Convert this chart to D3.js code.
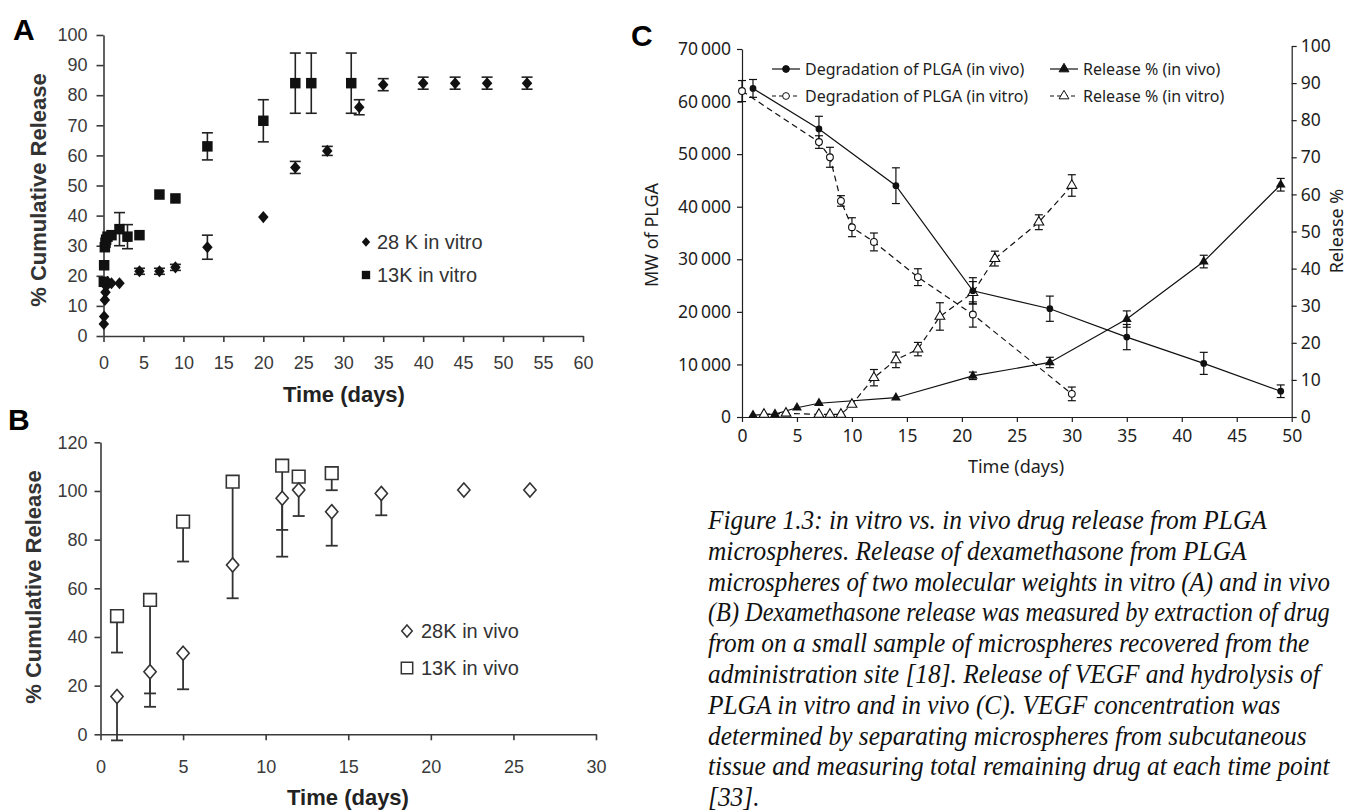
<!DOCTYPE html>
<html><head><meta charset="utf-8">
<script src="https://cdn.jsdelivr.net/npm/d3@7"></script>
<style>body{margin:0;background:#fff;} svg{display:block}</style>
</head><body>
<svg id="fig" width="1351" height="811"></svg>
<script>
// ---------- Panel A data (in vitro dexamethasone release) ----------
const aDays28 = [0.04,0.08,0.17,0.25,0.33,0.5,1,2,4.5,7,9,13,20,24,28,32,35,40,44,48,53];
const aVal28  = [4,6.5,12,14.5,16.5,18,17.5,17.5,21.5,21.5,22.8,29.5,39.5,56,61.5,76,83.5,84,84,84,84];
const aErr28  = [0,0,0,0,0,0,0,0,1,1,1,4,0,2,1.5,2.5,2,2,2,2,2];
const aDays13 = [0.04,0.08,0.17,0.25,0.33,0.5,1,2,3,4.5,7,9,13,20,24,26,31];
const aVal13  = [18,23.5,29.5,31,32,33,33.5,35.5,33,33.5,47,45.7,63,71.5,84,84,84];
const aErr13  = [0,0,0,0,0,0,0,5.5,4,0,0,0,4.5,7,10,10,10];
const aXTicks = [0,5,10,15,20,25,30,35,40,45,50,55,60];
const aYTicks = [0,10,20,30,40,50,60,70,80,90,100];
const aLegend = ["28 K in vitro","13K in vitro"];

// ---------- Panel B data (in vivo dexamethasone release) ----------
const bDays28 = [1,3,5,8,11,12,14,17,22,26];
const bVal28  = [15.5,25.7,33.3,69.6,97,100.4,91.5,99,100.4,100.4];
const bErr28  = [18,14.4,14.8,13.7,24,10.7,14,9,0,0];
const bDays13 = [1,3,5,8,11,12,14];
const bVal13  = [48.6,55.2,87.4,103.8,110.4,105.9,107.3];
const bErr13  = [15,38.4,16.4,34,26.4,5,7];
const bXTicks = [0,5,10,15,20,25,30];
const bYTicks = [0,20,40,60,80,100,120];
const bLegend = ["28K in vivo","13K in vivo"];

// ---------- Panel C data (VEGF release and PLGA degradation) ----------
const cDegVivoDays  = [1,7,14,21,28,35,42,49];
const cDegVivo      = [62500,54800,44000,24000,20600,15200,10200,4900];
const cDegVivoErr   = [1700,2400,3400,2500,2400,2400,2100,1200];
const cDegVitroDays = [0,7,8,9,10,12,16,21,30];
const cDegVitro     = [62000,52300,49400,41100,36100,33300,26600,19500,4400];
const cDegVitroErr  = [2000,1200,1900,1000,1800,1700,1600,2400,1300];
const cRelVivoDays  = [1,3,5,7,14,21,28,35,42,49];
const cRelVivo      = [0.5,0.8,2.5,3.7,5.2,11.1,14.7,26.4,41.9,62.6];
const cRelVivoErr   = [0,0,0,0,0,1,1.4,2.2,1.7,1.7];
const cRelVitroDays = [2,4,7,8,9,10,12,14,16,18,21,23,27,30];
const cRelVitro     = [0.7,1,0.7,0.7,0.7,3.4,10.6,15.4,18.3,27.1,33.5,42.7,52.5,62.4];
const cRelVitroErr  = [0,0,0,0,0,0,2.2,2.1,1.8,3.7,3,2,2,2.9];
const cXTicks = [0,5,10,15,20,25,30,35,40,45,50];
const cYLeftTicks = [0,10000,20000,30000,40000,50000,60000,70000];
const cYRightTicks = [0,10,20,30,40,50,60,70,80,90,100];
const cLegend = ["Degradation of PLGA (in vivo)","Degradation of PLGA (in vitro)","Release % (in vivo)","Release % (in vitro)"];

const captionLines = [
 "Figure 1.3: in vitro vs. in vivo drug release from PLGA",
 "microspheres. Release of dexamethasone from PLGA",
 "microspheres of two molecular weights in vitro (A) and in vivo",
 "(B) Dexamethasone release was measured by extraction of drug",
 "from on a small sample of microspheres recovered from the",
 "administration site [18]. Release of VEGF and hydrolysis of",
 "PLGA in vitro and in vivo (C). VEGF concentration was",
 "determined by separating microspheres from subcutaneous",
 "tissue and measuring total remaining drug at each time point",
 "[33]."
];

const SANS = "'Liberation Sans', Arial, Helvetica, sans-serif";
const CSANS = "'Noto Sans', 'Open Sans', sans-serif";
const SERIF = "'Liberation Serif', 'Times New Roman', serif";

const svg = d3.select('#fig');
svg.append('rect').attr('width',1351).attr('height',811).attr('fill','#fff');

// custom rhombus symbol
const rhombus = { draw(ctx, size){ const h = Math.sqrt(size)/2; ctx.moveTo(0,-h*1.15); ctx.lineTo(h,0); ctx.lineTo(0,h*1.15); ctx.lineTo(-h,0); ctx.closePath(); } };

function styleAxis(g, color, fs, family, sw){
  g.attr('font-size', fs).attr('font-family', family);
  g.select('.domain').attr('stroke', color).attr('stroke-width', sw);
  g.selectAll('.tick line').attr('stroke', color).attr('stroke-width', sw);
  g.selectAll('.tick text').attr('fill', color);
}
function zip(xs, ys, es){ return xs.map((x,i)=>({x, y:ys[i], e: es ? es[i] : 0})); }

function errBars(g, data, sx, sy, capW, up, down, color, sw){
  const d = data.filter(p=>p.e>0);
  const eg = g.append('g').attr('stroke', color).attr('stroke-width', sw).attr('fill','none');
  d.forEach(p=>{
    const top = up ? sy(p.y+p.e) : sy(p.y);
    const bot = down ? sy(p.y-p.e) : sy(p.y);
    eg.append('line').attr('x1', sx(p.x)).attr('x2', sx(p.x)).attr('y1', top).attr('y2', bot);
    if (up) eg.append('line').attr('x1', sx(p.x)-capW/2).attr('x2', sx(p.x)+capW/2).attr('y1', top).attr('y2', top);
    if (down) eg.append('line').attr('x1', sx(p.x)-capW/2).attr('x2', sx(p.x)+capW/2).attr('y1', bot).attr('y2', bot);
  });
}

// ================= Panel A =================
{
  const ax = d3.scaleLinear().domain([0,60]).range([103.5,583]);
  const ay = d3.scaleLinear().domain([0,100]).range([336,35]);
  const g = svg.append('g');
  const gx = g.append('g').attr('transform',`translate(0,${ay(0)})`)
    .call(d3.axisBottom(ax).tickValues(aXTicks).tickSize(6).tickSizeOuter(0).tickPadding(14));
  styleAxis(gx, '#3a3a3a', 18, SANS, 1.6);
  const gy = g.append('g').attr('transform',`translate(${ax(0)},0)`)
    .call(d3.axisLeft(ay).tickValues(aYTicks).tickSize(7).tickSizeOuter(0).tickPadding(9));
  styleAxis(gy, '#3a3a3a', 18, SANS, 1.6);

  const d28 = zip(aDays28, aVal28, aErr28), d13 = zip(aDays13, aVal13, aErr13);
  errBars(g, d13, ax, ay, 11, true, true, '#222', 1.6);
  errBars(g, d28, ax, ay, 11, true, true, '#222', 1.6);
  g.append('g').selectAll('path').data(d13).join('path')
    .attr('transform', p=>`translate(${ax(p.x)},${ay(p.y)})`)
    .attr('d', d3.symbol().type(d3.symbolSquare).size(110)).attr('fill','#111');
  g.append('g').selectAll('path').data(d28).join('path')
    .attr('transform', p=>`translate(${ax(p.x)},${ay(p.y)})`)
    .attr('d', d3.symbol().type(rhombus).size(110)).attr('fill','#111');

  // legend
  const lg = g.append('g').attr('font-family', SANS).attr('font-size', 20).attr('fill','#333');
  lg.append('path').attr('transform','translate(366,242)').attr('d', d3.symbol().type(rhombus).size(70)).attr('fill','#111');
  lg.append('text').attr('x',377).attr('y',242).attr('dy','0.35em').text(aLegend[0]);
  lg.append('path').attr('transform','translate(366,275)').attr('d', d3.symbol().type(d3.symbolSquare).size(70)).attr('fill','#111');
  lg.append('text').attr('x',377).attr('y',275).attr('dy','0.35em').text(aLegend[1]);

  g.append('text').attr('transform','translate(46,190) rotate(-90)').attr('text-anchor','middle')
    .attr('font-family',SANS).attr('font-weight','bold').attr('font-size',22).attr('fill','#333').text('% Cumulative Release');
  g.append('text').attr('x',344).attr('y',402).attr('text-anchor','middle')
    .attr('font-family',SANS).attr('font-weight','bold').attr('font-size',22).attr('fill','#222').text('Time (days)');
  svg.append('text').attr('x',13).attr('y',40).attr('font-family',SANS).attr('font-weight','bold').attr('font-size',30).attr('fill','#000').text('A');
}

// ================= Panel B =================
{
  const bx = d3.scaleLinear().domain([0,30]).range([100.5,596]);
  const by = d3.scaleLinear().domain([0,120]).range([734.3,442.3]);
  const g = svg.append('g');
  const gx = g.append('g').attr('transform',`translate(0,${by(0)})`)
    .call(d3.axisBottom(bx).tickValues(bXTicks).tickSize(6).tickSizeOuter(0).tickPadding(20));
  styleAxis(gx, '#3a3a3a', 18, SANS, 1.6);
  const gy = g.append('g').attr('transform',`translate(${bx(0)},0)`)
    .call(d3.axisLeft(by).tickValues(bYTicks).tickSize(6).tickSizeOuter(0).tickPadding(7));
  styleAxis(gy, '#3a3a3a', 18, SANS, 1.6);

  const d28 = zip(bDays28, bVal28, bErr28), d13 = zip(bDays13, bVal13, bErr13);
  errBars(g, d13, bx, by, 12, false, true, '#333', 1.8);
  errBars(g, d28, bx, by, 12, false, true, '#333', 1.8);
  g.append('g').selectAll('path').data(d13).join('path')
    .attr('transform', p=>`translate(${bx(p.x)},${by(p.y)})`)
    .attr('d', d3.symbol().type(d3.symbolSquare).size(160)).attr('fill','#fff').attr('stroke','#333').attr('stroke-width',1.6);
  g.append('g').selectAll('path').data(d28).join('path')
    .attr('transform', p=>`translate(${bx(p.x)},${by(p.y)})`)
    .attr('d', d3.symbol().type(rhombus).size(150)).attr('fill','#fff').attr('stroke','#333').attr('stroke-width',1.6);

  const lg = g.append('g').attr('font-family', SANS).attr('font-size', 20).attr('fill','#333');
  lg.append('path').attr('transform','translate(407,631)').attr('d', d3.symbol().type(rhombus).size(110)).attr('fill','#fff').attr('stroke','#333').attr('stroke-width',1.5);
  lg.append('text').attr('x',421).attr('y',631).attr('dy','0.35em').text(bLegend[0]);
  lg.append('path').attr('transform','translate(407,668)').attr('d', d3.symbol().type(d3.symbolSquare).size(130)).attr('fill','#fff').attr('stroke','#333').attr('stroke-width',1.5);
  lg.append('text').attr('x',421).attr('y',668).attr('dy','0.35em').text(bLegend[1]);

  g.append('text').attr('transform','translate(41,587) rotate(-90)').attr('text-anchor','middle')
    .attr('font-family',SANS).attr('font-weight','bold').attr('font-size',22).attr('fill','#333').text('% Cumulative Release');
  g.append('text').attr('x',348).attr('y',805).attr('text-anchor','middle')
    .attr('font-family',SANS).attr('font-weight','bold').attr('font-size',22).attr('fill','#222').text('Time (days)');
  svg.append('text').attr('x',8).attr('y',430).attr('font-family',SANS).attr('font-weight','bold').attr('font-size',30).attr('fill','#000').text('B');
}

// ================= Panel C =================
{
  const cx = d3.scaleLinear().domain([0,50]).range([742,1291.7]);
  const cyL = d3.scaleLinear().domain([0,70000]).range([417,49]);
  const cyR = d3.scaleLinear().domain([0,100]).range([417,46]);
  const g = svg.append('g');
  const col = '#1e1e1e';
  const fmt = v => { const s = String(v); return s.length > 3 ? s.slice(0, s.length-3) + '\u2009' + s.slice(-3) : s; };
  const gx = g.append('g').attr('transform',`translate(0,${cyL(0)})`)
    .call(d3.axisBottom(cx).tickValues(cXTicks).tickSize(5).tickSizeOuter(0).tickPadding(8));
  styleAxis(gx, col, 17.5, CSANS, 1.2);
  const gyl = g.append('g').attr('transform',`translate(${cx(0)},0)`)
    .call(d3.axisLeft(cyL).tickValues(cYLeftTicks).tickFormat(fmt).tickSize(5).tickSizeOuter(0).tickPadding(6));
  styleAxis(gyl, col, 17.5, CSANS, 1.2);
  const gyr = g.append('g').attr('transform',`translate(${cx(50)},0)`)
    .call(d3.axisRight(cyR).tickValues(cYRightTicks).tickSize(5).tickSizeOuter(0).tickPadding(4));
  styleAxis(gyr, col, 17.5, CSANS, 1.2);

  const dv = zip(cDegVivoDays, cDegVivo, cDegVivoErr);
  const dt = zip(cDegVitroDays, cDegVitro, cDegVitroErr);
  const rv = zip(cRelVivoDays, cRelVivo, cRelVivoErr);
  const rt = zip(cRelVitroDays, cRelVitro, cRelVitroErr);

  const lineL = d3.line().x(p=>cx(p.x)).y(p=>cyL(p.y));
  const lineR = d3.line().x(p=>cx(p.x)).y(p=>cyR(p.y));
  g.append('path').datum(dv).attr('d', lineL).attr('fill','none').attr('stroke','#111').attr('stroke-width',1.2);
  g.append('path').datum(dt).attr('d', lineL).attr('fill','none').attr('stroke','#111').attr('stroke-width',1.2).attr('stroke-dasharray','6,4');
  g.append('path').datum(rv).attr('d', lineR).attr('fill','none').attr('stroke','#111').attr('stroke-width',1.2);
  g.append('path').datum(rt).attr('d', lineR).attr('fill','none').attr('stroke','#111').attr('stroke-width',1.2).attr('stroke-dasharray','6,4');

  errBars(g, dv, cx, cyL, 8, true, true, '#111', 1.2);
  errBars(g, dt, cx, cyL, 8, true, true, '#111', 1.2);
  errBars(g, rv, cx, cyR, 8, true, true, '#111', 1.2);
  errBars(g, rt, cx, cyR, 8, true, true, '#111', 1.2);

  const tri = d3.symbol().type(d3.symbolTriangle).size(42);
  const circ = d3.symbol().type(d3.symbolCircle).size(36);
  g.append('g').selectAll('path').data(rt).join('path').attr('transform',p=>`translate(${cx(p.x)},${cyR(p.y)})`)
    .attr('d', tri).attr('fill','#fff').attr('stroke','#111').attr('stroke-width',1.1);
  g.append('g').selectAll('path').data(dt).join('path').attr('transform',p=>`translate(${cx(p.x)},${cyL(p.y)})`)
    .attr('d', circ).attr('fill','#fff').attr('stroke','#111').attr('stroke-width',1.1);
  g.append('g').selectAll('path').data(rv).join('path').attr('transform',p=>`translate(${cx(p.x)},${cyR(p.y)})`)
    .attr('d', tri).attr('fill','#111');
  g.append('g').selectAll('path').data(dv).join('path').attr('transform',p=>`translate(${cx(p.x)},${cyL(p.y)})`)
    .attr('d', circ).attr('fill','#111');

  // legend
  const lg = g.append('g').attr('font-family', CSANS).attr('font-size', 16).attr('fill', col);
  const items = [
    {x:772, y:69, dash:null, sym:circ, fill:'#111', label:cLegend[0]},
    {x:772, y:96, dash:'4,3', sym:circ, fill:'#fff', label:cLegend[1]},
    {x:1050, y:69, dash:null, sym:tri, fill:'#111', label:cLegend[2]},
    {x:1050, y:96, dash:'4,3', sym:tri, fill:'#fff', label:cLegend[3]}
  ];
  items.forEach(it=>{
    lg.append('line').attr('x1',it.x).attr('x2',it.x+28).attr('y1',it.y).attr('y2',it.y)
      .attr('stroke','#111').attr('stroke-width',1.2).attr('stroke-dasharray', it.dash);
    lg.append('path').attr('transform',`translate(${it.x+14},${it.y})`).attr('d', it.sym)
      .attr('fill', it.fill).attr('stroke','#111').attr('stroke-width',1);
    lg.append('text').attr('x', it.x+33).attr('y', it.y).attr('dy','0.35em').text(it.label);
  });

  g.append('text').attr('transform','translate(658,235) rotate(-90)').attr('text-anchor','middle')
    .attr('font-family',CSANS).attr('font-size',18).attr('fill',col).text('MW of PLGA');
  g.append('text').attr('x',1016).attr('y',473).attr('text-anchor','middle')
    .attr('font-family',CSANS).attr('font-size',18).attr('fill',col).text('Time (days)');
  g.append('text').attr('transform','translate(1343,231) rotate(-90)').attr('text-anchor','middle')
    .attr('font-family',CSANS).attr('font-size',18).attr('fill',col).text('Release %');
  svg.append('text').attr('x',631).attr('y',46).attr('font-family',SANS).attr('font-weight','bold').attr('font-size',30).attr('fill','#000').text('C');
}

// ================= Caption =================
{
  const cg = svg.append('g');
  const baseFs = 28;
  const inner = cg.append('g').attr('font-family', SERIF).attr('font-style','italic').attr('font-size', baseFs).attr('fill','#111');
  const t = inner.selectAll('text').data(captionLines).join('text')
    .attr('x', 0).attr('y', (d,i)=>529 + i*30.8).text(d=>d);
  const w = t.nodes()[0].getComputedTextLength();
  const sx = 559 / w;
  inner.attr('transform', `translate(708,0) scale(${sx},1)`);
  // keep every line inside the page width by shrinking over-long lines slightly
  const maxW = (1330 - 708) / sx;
  t.each(function(){
    const lw = this.getComputedTextLength();
    if (lw > maxW) d3.select(this).attr('font-size', baseFs * maxW / lw);
  });
}
</script>
</body></html>
